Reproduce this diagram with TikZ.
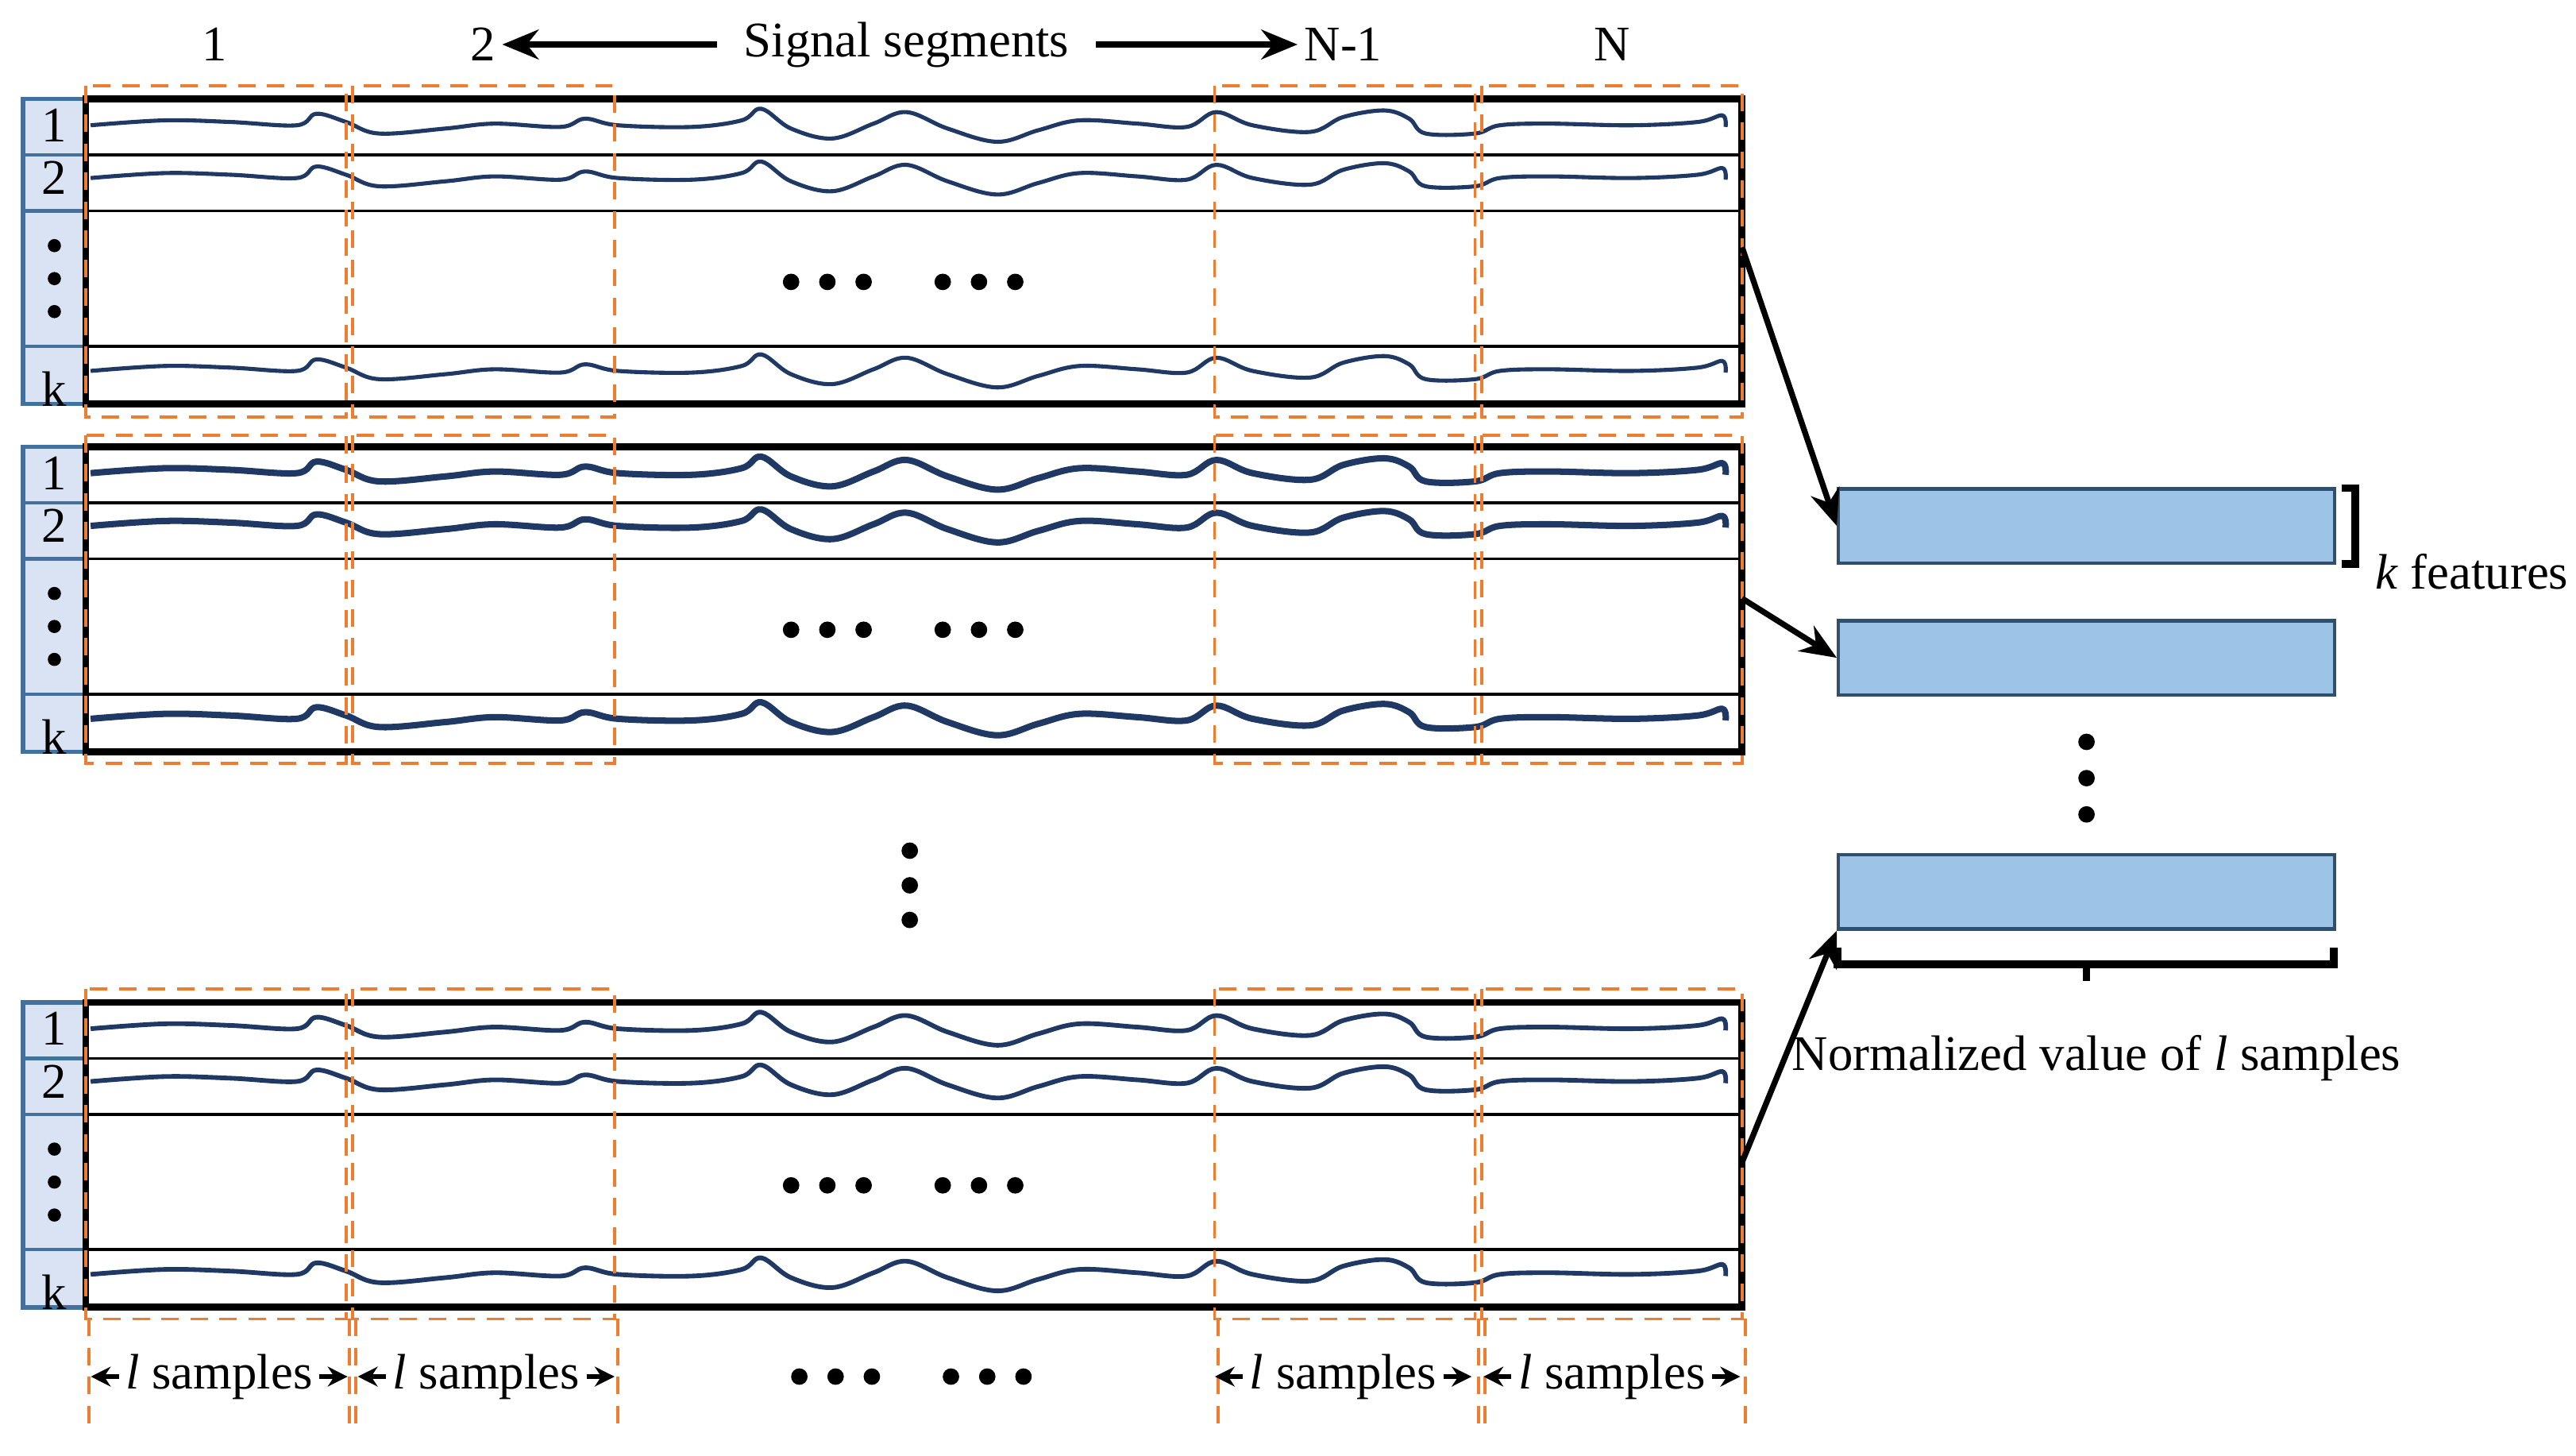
\documentclass[tikz,border=0pt]{standalone}
\usepackage{fontspec}
\setmainfont{Liberation Serif}
\usetikzlibrary{arrows.meta,decorations.pathreplacing}
\definecolor{wav}{HTML}{1F3864}
\definecolor{org}{HTML}{ED7D31}
\definecolor{lab}{HTML}{DAE3F3}
\definecolor{labd}{HTML}{41719C}
\definecolor{feat}{HTML}{9DC3E6}
\tikzset{
 txt/.style={font=\fontsize{8.6}{10}\selectfont, inner sep=1pt},
 seg/.style={draw=org, densely dashed, line width=0.5pt},
 wave/.style={draw=wav, line width=0.7pt},
 featbox/.style={draw=labd!70!black, fill=feat, line width=0.6pt, minimum width=30.1mm, minimum height=4.5mm, inner sep=0pt},
 arr/.style={-{Stealth[length=2.2mm,width=1.8mm]}, line width=1pt},
 sarr/.style={-{Stealth[length=1.2mm,width=1.2mm]}, line width=0.9pt},
}
\newcommand{\mywave}[2]{\draw[wave,line width=#2] plot[smooth,tension=0.6] coordinates{(55,#1+0)(100,#1-3)(140,#1-2)(180,#1+0)(192,#1-7)(210,#1-2)(230,#1+5)(270,#1+2)(300,#1-1)(340,#1+1)(355,#1-4)(375,#1+0)(420,#1+1)(450,#1-3)(462,#1-10)(480,#1+2)(505,#1+8)(530,#1-1)(550,#1-8)(575,#1+2)(605,#1+10)(630,#1+3)(655,#1-3)(690,#1-1)(720,#1+1)(738,#1-8)(760,#1+0)(795,#1+4)(815,#1-5)(840,#1-9)(855,#1-4)(865,#1+5)(895,#1+5)(910,#1+0)(940,#1-1)(990,#1+0)(1030,#1-2)(1045,#1-6)(1047,#1+1)};}
\newcommand{\dotrow}[2]{\foreach \dx in {0,22,44,92,114,136}{\fill (#1+\dx,#2) circle (5);}}
\begin{document}
\begin{tikzpicture}[x=0.1mm,y=-0.1mm]
\useasboundingbox (0,0) rectangle (1563,883);
% top labels
\node[txt] (t1) at (130,27) {1};
\node[txt] (t2) at (293,27) {2};
\node[txt] (ts) at (550,27) {Signal segments};
\node[txt] (tn1) at (815,27) {N-1};
\node[txt] (tn) at (978,27) {N};
\draw[arr] (ts.west)++(-12,0) -- (t2.east);
\draw[arr] (ts.east)++(12,0) -- (tn1.west);
% blocks
\foreach \y/\lw [count=\b] in {60/0.7pt,271/1.1pt,608/0.8pt}{
  \fill[lab] (14,\y) rectangle (52,\y+185);
  \draw[labd,line width=0.8pt] (14,\y) rectangle (52,\y+185);
  \foreach \d in {34,68,150} \draw[labd,line width=0.6pt] (14,\y+\d) -- (52,\y+\d);
  \draw[line width=0.5pt] (52,\y+34) -- (1057,\y+34) (52,\y+68) -- (1057,\y+68) (52,\y+150) -- (1057,\y+150);
  \draw[line width=1.2pt] (52,\y) rectangle (1057,\y+185);
  \node[txt] at (33,\y+16) {1};
  \node[txt] at (33,\y+48) {2};
  \node[txt] at (33,\y+176) {k};
  \foreach \d in {-20,0,20} \fill (33,\y+109+\d) circle (4);
  \mywave{\y+16}{\lw}
  \mywave{\y+48}{\lw}
  \mywave{\y+165}{\lw}
  \dotrow{480}{\y+111}
  \coordinate (b\b) at (1057,\y+92);
}
% orange segment boxes
\foreach \xa/\xb in {52/210,214/373,737/895,899/1057}{
  \draw[seg] (\xa,52) rectangle (\xb,253);
  \draw[seg] (\xa,264) rectangle (\xb,463);
  \draw[seg] (\xa,600) rectangle (\xb,800);
  \draw[seg] (\xa+2,800) -- (\xa+2,870) (\xb+2,800) -- (\xb+2,870);
}
% vertical dots between blocks
\foreach \yy in {516,537,558} \fill (552,\yy) circle (5);
% bottom labels
\foreach \xc [count=\i] in {133,295,815,978}{
  \node[txt] (ls\i) at (\xc,835) {\textit{l} samples};
  \draw[sarr] (ls\i.west) -- ++(-17,0);
  \draw[sarr] (ls\i.east) -- ++(17,0);
}
\dotrow{485}{835}
% features
\node[featbox] (f1) at (1266,319) {};
\node[featbox] (f2) at (1266,399) {};
\node[featbox] (f3) at (1266,541) {};
\foreach \yy in {450,472,494} \fill (1266,\yy) circle (5);
\draw[line width=1.3pt] (1421,296) -- (1429,296) -- (1429,342) -- (1421,342);
\node[txt,anchor=west] (kf) at (1437,347) {\textit{k} features};
\draw[line width=1.3pt] (1115,575) -- (1115,585) -- (1416,585) -- (1416,575) (1266,585) -- (1266,595);
\node[txt] (nv) at (1272,642) {Normalized value of \textit{l} samples};
\draw[arr] (1057,150) -- (f1.west);
\draw[arr] (b2) -- (f2.west);
\draw[arr] (1057,705) -- (f3.south west);
\end{tikzpicture}
\end{document}
